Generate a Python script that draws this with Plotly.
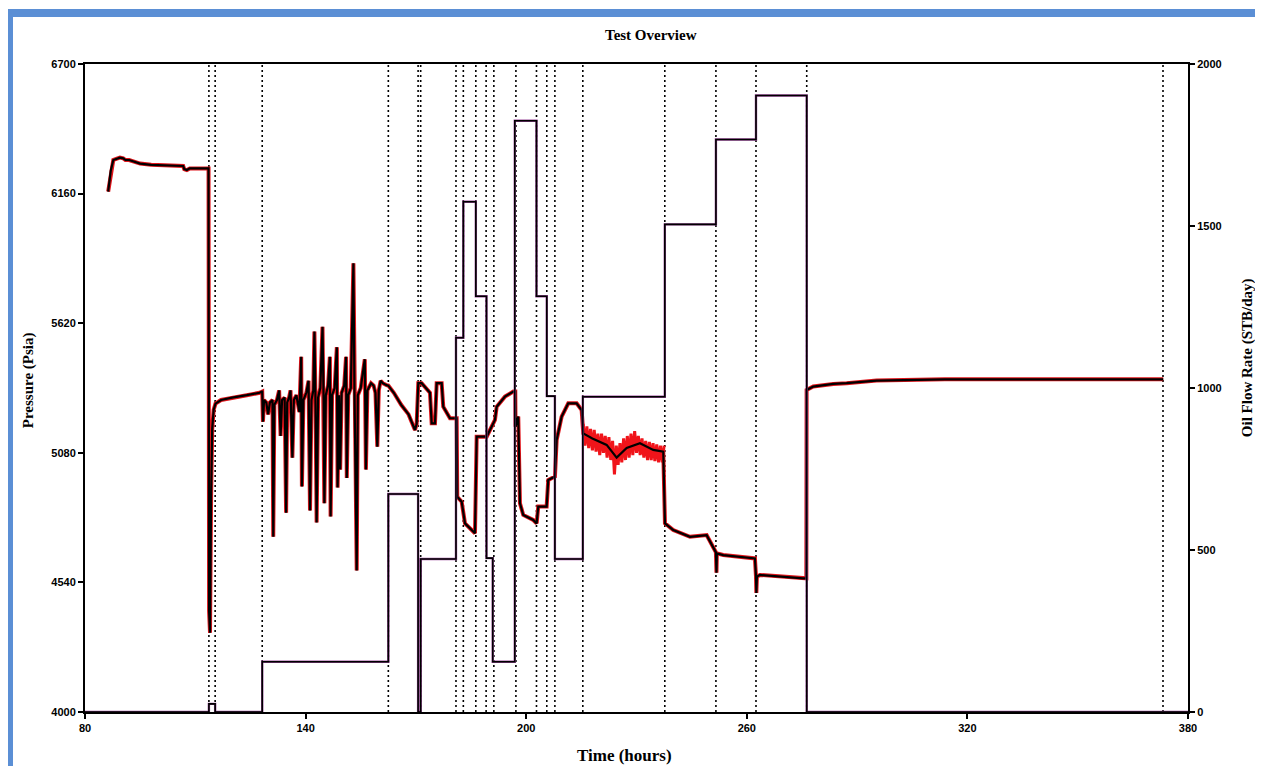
import plotly.graph_objects as go

# ---------------- data ----------------
event_times = [113.7, 115.4, 128.2, 162.5, 170.6, 171.3, 180.9, 182.9, 186.3, 189.1,
               191.2, 197.2, 202.8, 205.6, 207.8, 215.4, 237.7, 251.6, 262.5, 276.3, 373.2]

rate_time = [80, 113.7, 115.4, 128.2, 162.5, 170.6, 171.3, 180.9, 182.9, 186.3, 189.2,
             190.9, 196.9, 202.8, 205.6, 207.8, 215.4, 237.7, 251.6, 262.5, 276.3, 380]
rate_value = [0, 25, 0, 155, 673, 0, 472, 1155, 1575, 1283, 475,
              155, 1825, 1283, 975, 472, 973, 1505, 1767, 1903, 0, 0]

pressure_time = [
    86.3, 86.6, 87.0, 87.7, 88.5, 89.5, 90.4, 91.0, 92.0, 95.0, 98.0, 101.0, 104.0, 106.7, 107.0, 107.7, 108.5, 113.5,
    113.6, 113.75, 114.0, 114.3, 114.6, 115.0, 115.5, 117.0, 120.0, 124.0, 127.5, 128.1,
    128.2, 128.4, 128.7, 129.3, 129.8, 130.3, 131.0, 131.2, 131.5, 132.2, 132.8, 133.2, 133.6, 134.3, 134.7,
    135.0, 135.5, 135.9, 136.4, 136.8, 137.5, 138.3, 138.8, 139.0, 139.4, 140.2, 140.8, 141.2, 141.6, 142.1,
    142.4, 142.7, 143.0, 143.4, 144.0, 144.6, 144.9, 145.1, 145.5, 146.1, 146.6, 146.8, 147.2, 147.9, 148.5,
    148.7, 149.1, 149.4, 149.8, 150.5, 151.0, 151.2, 151.6, 152.3, 153.0, 153.3, 153.9, 154.2, 155.0, 156.1,
    156.4, 156.8, 157.8, 158.5, 159.0, 159.5, 159.9, 160.4, 161.0, 162.0,
    162.5, 164.0, 166.0, 168.0, 169.75, 170.2, 170.65, 171.57, 173.0, 173.83, 174.29, 175.19, 175.65, 177.01,
    177.44, 179.27, 181.09, 181.25, 182.45, 183.35, 186.07, 186.53, 189.25, 191.5, 191.97, 194.22, 196.48,
    197.03, 197.1, 197.84, 198.3, 199.2, 201.92, 202.84, 203.28, 205.56, 206.0, 207.82, 208.28, 209.64,
    211.44, 213.72, 215.08, 215.35,
    215.52, 218.0, 221.88, 224.6, 227.32, 230.94, 234.56, 237.28, 237.74, 240.0, 244.54, 249.08, 250.87,
    251.6, 251.75, 251.85, 253.59, 262.21, 262.5, 262.6, 262.75, 263.57, 275.35, 276.2, 276.27, 278.07,
    283.51, 287.15, 295.31, 313.89, 373.26]
pressure_value = [
    6168, 6200, 6255, 6300, 6305, 6310, 6307, 6300, 6300, 6285, 6280, 6278, 6276, 6275, 6262, 6258, 6265, 6265,
    6265, 4420, 4330, 4900, 5180, 5260, 5285, 5300, 5310, 5320, 5330, 5335,
    5335, 5210, 5300, 5290, 5240, 5290, 5300, 4730, 5280, 5300, 5340, 5150, 5300, 5310, 4830,
    5290, 5310, 5340, 5060, 5300, 5320, 5250, 5480, 4940, 5300, 5330, 5380, 4840, 5300, 5340,
    5585, 5280, 4790, 5310, 5350, 5605, 5300, 4870, 5320, 5360, 5480, 4815, 5320, 5350, 5520,
    4935, 5320, 5010, 5330, 5360, 5480, 4975, 5320, 5350, 5870, 5330, 4590, 5320, 5350, 5470,
    5010, 5340, 5370, 5360, 5330, 5105, 5340, 5380, 5370, 5362,
    5360, 5330, 5280, 5240, 5175, 5200, 5370, 5370, 5345, 5330, 5203, 5203, 5370, 5370,
    5272, 5224, 5224, 4897, 4876, 4786, 4745, 5147, 5147, 5217, 5272, 5314, 5335,
    5335, 5189, 5231, 4870, 4821, 4800, 4786, 4856, 4856, 4967, 4981, 5133, 5231,
    5286, 5286, 5258, 5175,
    5161, 5140, 5113, 5060, 5100, 5120, 5092, 5085, 4786, 4758, 4730, 4737, 4689,
    4665, 4580, 4661, 4654, 4640, 4564, 4496, 4564, 4571, 4557, 4557, 5342, 5356,
    5367, 5370, 5381, 5386, 5386]

noise_time = [215.5, 216.0, 216.5, 217.0, 217.5, 218.0, 218.5, 219.0, 219.5, 220.0, 220.5, 221.0, 221.5,
              222.0, 222.5, 223.0, 223.5, 224.0, 224.5, 225.0, 225.5, 226.0, 226.5, 227.0, 227.5, 228.0,
              228.5, 229.0, 229.5, 230.0, 230.5, 231.0, 231.5, 232.0, 232.5, 233.0, 233.5, 234.0, 234.5,
              235.0, 235.5, 236.0, 236.5, 237.0, 237.5]
noise_value = [5200, 5110, 5190, 5100, 5180, 5090, 5175, 5085, 5160, 5070, 5160, 5080, 5150,
               5060, 5145, 5050, 5130, 4990, 5110, 5030, 5120, 5040, 5140, 5050, 5150, 5060,
               5160, 5070, 5170, 5080, 5150, 5070, 5140, 5060, 5130, 5050, 5125, 5050, 5120,
               5045, 5115, 5040, 5110, 5040, 5110]

x_ticks = [80, 140, 200, 260, 320, 380]
p_ticks = [4000, 4540, 5080, 5620, 6160, 6700]
q_ticks = [0, 500, 1000, 1500, 2000]

# ---------------- figure ----------------
fig = go.Figure()

vx, vy = [], []
for t in event_times:
    vx += [t, t, None]
    vy += [p_ticks[0], p_ticks[-1], None]
fig.add_trace(go.Scatter(x=vx, y=vy, mode="lines", line=dict(color="black", width=1.6, dash="2px,3px"),
                         hoverinfo="skip"))

fig.add_trace(go.Scatter(x=rate_time, y=rate_value, yaxis="y2", mode="lines", line_shape="hv",
                         line=dict(color="#9a4a9a", width=2.4)))
fig.add_trace(go.Scatter(x=rate_time, y=rate_value, yaxis="y2", mode="lines", line_shape="hv",
                         line=dict(color="black", width=1.6)))

fig.add_trace(go.Scatter(x=pressure_time, y=pressure_value, mode="lines",
                         line=dict(color="#e0141a", width=4)))
fig.add_trace(go.Scatter(x=noise_time, y=noise_value, mode="lines",
                         line=dict(color="#f0141a", width=3)))
fig.add_trace(go.Scatter(x=pressure_time, y=pressure_value, mode="lines",
                         line=dict(color="black", width=2.2)))

tickfont = dict(family="Liberation Sans", size=11, color="black")
serif = "Liberation Serif"

# page body has an 8px default margin, so the figure is sized 8px smaller
fig.update_layout(
    width=1255, height=758,
    margin=dict(l=77, r=75, t=56, b=54),
    paper_bgcolor="white", plot_bgcolor="white",
    showlegend=False,
    xaxis=dict(range=[80, 380], tickvals=x_ticks, ticktext=["<b>%d</b>" % v for v in x_ticks],
               showgrid=False, zeroline=False, showline=True, linecolor="black", linewidth=2,
               mirror=True, ticks="outside", ticklen=5, tickwidth=1.5, tickcolor="black",
               tickfont=tickfont),
    yaxis=dict(range=[4000, 6700], tickvals=p_ticks, ticktext=["<b>%d</b>" % v for v in p_ticks],
               showgrid=False, zeroline=False, showline=True, linecolor="black", linewidth=2,
               ticks="outside", ticklen=5, tickwidth=1.5, tickcolor="black", tickfont=tickfont),
    yaxis2=dict(range=[0, 2000], tickvals=q_ticks, ticktext=["<b>%d</b>" % v for v in q_ticks],
                overlaying="y", side="right", showgrid=False, zeroline=False, showline=True,
                linecolor="black", linewidth=2, ticks="outside", ticklen=5, tickwidth=1.5,
                tickcolor="black", tickfont=tickfont),
    shapes=[dict(type="rect", xref="paper", yref="paper", x0=-0.0689, x1=1.0644, y0=-0.2, y1=1.0787,
                 line=dict(color="#5b8fd5", width=8), fillcolor="rgba(0,0,0,0)", layer="above")],
    annotations=[
        dict(text="<b>Test Overview</b>", xref="paper", yref="paper", x=0.513, y=1.0448,
             showarrow=False, xanchor="center", yanchor="middle",
             font=dict(family=serif, size=15, color="black")),
        dict(text="<b>Time (hours)</b>", xref="paper", yref="paper", x=0.489, y=-0.0664,
             showarrow=False, xanchor="center", yanchor="middle",
             font=dict(family=serif, size=17, color="black")),
        dict(text="<b>Pressure (Psia)</b>", xref="paper", yref="paper", x=-0.0517, y=0.512,
             showarrow=False, xanchor="center", yanchor="middle", textangle=-90,
             font=dict(family=serif, size=15, color="black")),
        dict(text="<b>Oil Flow Rate (STB/day)</b>", xref="paper", yref="paper", x=1.0535, y=0.546,
             showarrow=False, xanchor="center", yanchor="middle", textangle=-90,
             font=dict(family=serif, size=15, color="black")),
    ],
)

fig.write_html("out.html")
